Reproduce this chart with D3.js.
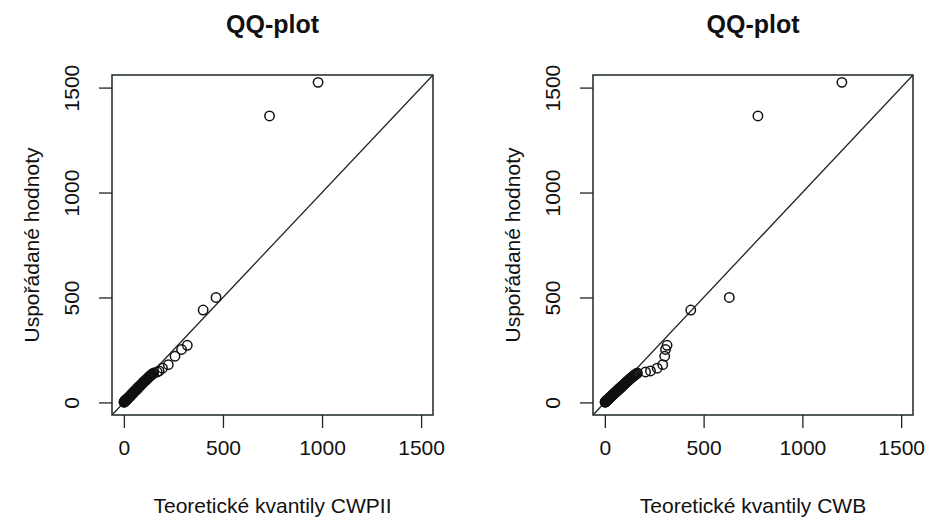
<!DOCTYPE html>
<html>
<head>
<meta charset="utf-8">
<script src="https://cdn.jsdelivr.net/npm/d3@7"></script>
<style>
  body { margin: 0; background: #fff; }
  text { font-family: "Liberation Sans", Arial, sans-serif; fill: #111; }
</style>
</head>
<body>
<div id="chart"></div>
<script>
// sorted observed values (shared by both plots)
var sortedValues = [1, 2, 3, 4, 5, 6, 7, 8, 9, 10, 11, 12, 13, 14, 15, 16,
    18, 20, 22, 24, 26, 28, 30, 32, 34, 36, 38, 40, 42, 44, 46, 48, 50, 52, 54, 56,
    58, 60, 62, 64, 66, 68, 70, 72, 74, 76, 78, 80,
    83, 86, 89, 92, 95, 98, 101, 104, 107, 110, 113, 116, 119, 122, 125, 128, 131, 134, 137, 140,
    145, 150, 163, 180, 220, 252, 272, 440, 500, 1365, 1525];

// theoretical quantiles CWPII
var quantCWPII = [1, 1, 2, 3, 4, 5, 6, 7, 8, 9, 11, 12, 13, 14, 15, 16,
    18, 20, 22, 24, 27, 29, 31, 33, 35, 37, 39, 41, 43, 45, 47, 49, 51, 53, 55, 57,
    60, 62, 64, 66, 68, 70, 72, 74, 76, 78, 80, 82,
    86, 89, 92, 95, 98, 101, 104, 108, 111, 115, 118, 121, 124, 127, 131, 134, 138, 142, 146, 150,
    168, 178, 195, 224, 258, 291, 320, 400, 465, 735, 980];

// theoretical quantiles CWB
var quantCWB = [1, 2, 3, 4, 5, 6, 7, 8, 9, 10, 12, 13, 14, 15, 16, 17,
    20, 22, 24, 26, 29, 31, 33, 35, 38, 40, 42, 45, 47, 49, 51, 54, 56, 58, 61, 63,
    65, 67, 70, 72, 74, 77, 79, 81, 84, 86, 88, 91,
    94, 98, 101, 104, 108, 111, 115, 118, 122, 125, 129, 132, 136, 140, 144, 148, 152, 156, 160, 165,
    206, 231, 265, 293, 303, 307, 315, 435, 630, 775, 1200];

var tickValues = [0, 500, 1000, 1500];
var titles = ["QQ-plot", "QQ-plot"];
var xLabels = ["Teoretické kvantily CWPII", "Teoretické kvantily CWB"];
var yLabel = "Uspořádané hodnoty";

var svgWidth = 928;
var svgHeight = 521;

var svg = d3.select("#chart")
    .append("svg")
    .attr("width", svgWidth)
    .attr("height", svgHeight);

// the two panels: box left/right edges, common top/bottom
var panels = [
    {left: 112, right: 433, xs: quantCWPII, title: titles[0], xlab: xLabels[0]},
    {left: 593, right: 913, xs: quantCWB, title: titles[1], xlab: xLabels[1]}
];
var plotTop = 75, plotBottom = 415;
var ink = "#1c2626";

panels.forEach(function(p, i) {
    var w = p.right - p.left;
    var h = plotBottom - plotTop;

    var g = svg.append("g")
        .attr("transform", `translate(${p.left}, ${plotTop})`);

    var x = d3.scaleLinear().domain([-60, 1560]).range([0, w]);
    var y = d3.scaleLinear().domain([-60, 1560]).range([h, 0]);

    // clip for the reference line
    svg.append("clipPath").attr("id", "clip" + i)
        .append("rect").attr("width", w).attr("height", h);

    // axes
    var xAxis = g.append("g")
        .attr("transform", `translate(0, ${h})`)
        .call(d3.axisBottom(x).tickValues(tickValues).tickFormat(d3.format("d"))
            .tickSize(13).tickSizeOuter(0).tickPadding(12));
    var yAxis = g.append("g")
        .call(d3.axisLeft(y).tickValues(tickValues).tickFormat(d3.format("d"))
            .tickSize(13).tickSizeOuter(0));

    [xAxis, yAxis].forEach(function(a) {
        a.select(".domain").remove();
        a.selectAll("line").attr("stroke", ink).attr("stroke-width", 1.3);
        a.selectAll("text")
            .style("font-family", "'Liberation Sans', Arial, sans-serif")
            .style("font-size", "21px")
            .attr("fill", "#111");
    });

    // y tick labels rotated like R
    yAxis.selectAll("text")
        .attr("x", 0)
        .attr("y", 0)
        .attr("text-anchor", "middle")
        .attr("dy", "0.35em")
        .attr("transform", "translate(-40, 0) rotate(-90)");

    // reference line y = x
    g.append("line")
        .attr("clip-path", `url(#clip${i})`)
        .attr("x1", x(-60)).attr("y1", y(-60))
        .attr("x2", x(1560)).attr("y2", y(1560))
        .attr("stroke", ink)
        .attr("stroke-width", 1.3);

    // points
    g.selectAll("circle")
        .data(sortedValues)
        .enter()
        .append("circle")
        .attr("cx", (d, j) => x(p.xs[j]))
        .attr("cy", d => y(d))
        .attr("r", 4.7)
        .attr("fill", "none")
        .attr("stroke", "#111")
        .attr("stroke-width", 1.5);

    // plot box
    g.append("rect")
        .attr("width", w)
        .attr("height", h)
        .attr("fill", "none")
        .attr("stroke", ink)
        .attr("stroke-width", 1.5);

    // title
    svg.append("text")
        .attr("x", p.left + w / 2)
        .attr("y", 33)
        .attr("text-anchor", "middle")
        .style("font-size", "25px")
        .style("font-weight", "bold")
        .text(p.title);

    // x label
    svg.append("text")
        .attr("x", p.left + w / 2)
        .attr("y", 513)
        .attr("text-anchor", "middle")
        .style("font-size", "21px")
        .text(p.xlab);

    // y label
    svg.append("text")
        .attr("transform", `translate(${p.left - 80}, ${plotTop + h / 2}) rotate(-90)`)
        .attr("dy", "0.35em")
        .attr("text-anchor", "middle")
        .style("font-size", "21px")
        .text(yLabel);
});
</script>
</body>
</html>
